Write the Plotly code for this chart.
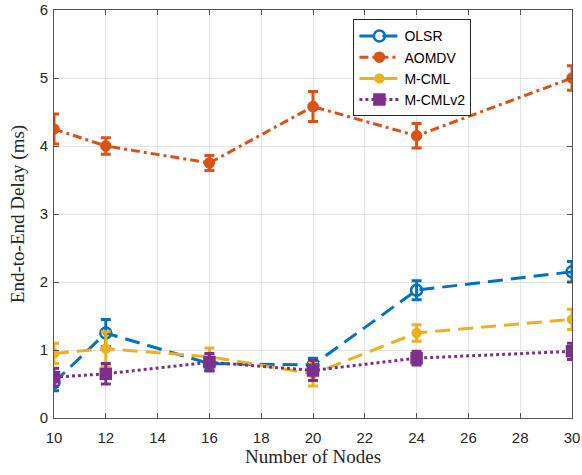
import plotly.graph_objects as go

nodes = [10, 12, 16, 20, 24, 30]
olsr = [0.52, 1.25, 0.80, 0.78, 1.88, 2.15]
olsr_err = [0.12, 0.20, 0.10, 0.10, 0.14, 0.15]
aomdv = [4.25, 4.00, 3.75, 4.58, 4.15, 5.00]
aomdv_err = [0.22, 0.12, 0.11, 0.22, 0.18, 0.18]
mcml = [0.95, 1.02, 0.90, 0.65, 1.25, 1.45]
mcml_err = [0.15, 0.25, 0.13, 0.18, 0.12, 0.15]
mcmlv2 = [0.60, 0.65, 0.82, 0.70, 0.88, 0.98]
mcmlv2_err = [0.13, 0.15, 0.13, 0.15, 0.10, 0.12]

blue = "#0072BD"
orange = "#D95319"
yellow = "#EDB120"
purple = "#7E2F8E"

fig = go.Figure()

def add(name, y, err, color, dash, symbol, size, width=3):
    fig.add_trace(go.Scatter(
        x=nodes, y=y, name=name, mode="lines+markers",
        line=dict(color=color, width=width, dash=dash),
        marker=dict(symbol=symbol, size=size, color=color,
                    line=dict(color=color, width=2.5)),
        error_y=dict(type="data", array=err, visible=True, color=color,
                     thickness=3, width=5),
    ))

add("OLSR", olsr, olsr_err, blue, "15px,8px", "circle-open", 11)
add("AOMDV", aomdv, aomdv_err, orange, "9px,4px,3px,4px", "circle", 9)
add("M-CML", mcml, mcml_err, yellow, "15px,8px", "circle", 8)
add("M-CMLv2", mcmlv2, mcmlv2_err, purple, "3px,3px", "square", 10)

axis_common = dict(
    showline=True, linecolor="#555555", linewidth=1, mirror="ticks",
    ticks="inside", ticklen=5, tickcolor="#555555",
    showgrid=True, gridcolor="#E3E3E3", gridwidth=1,
    zeroline=False, automargin=False,
    tickfont=dict(family="Liberation Sans, Arial", size=15, color="#262626"),
)

fig.update_layout(
    width=582, height=475,
    margin=dict(l=54, r=10, t=10, b=57),
    paper_bgcolor="white", plot_bgcolor="white",
    xaxis=dict(range=[10, 30], dtick=2, tick0=10, ticklabelstandoff=6,
               title=dict(text="Number of Nodes", standoff=2,
                          font=dict(family="Liberation Serif, DejaVu Serif", size=19, color="#262626")),
               **axis_common),
    yaxis=dict(range=[0, 6], dtick=1, ticklabelstandoff=2,
               title=dict(text="End-to-End Delay (ms)", standoff=10,
                          font=dict(family="Liberation Serif, DejaVu Serif", size=19, color="#262626")),
               **axis_common),
    legend=dict(x=0.578, y=0.977, xanchor="left", yanchor="top",
                bgcolor="white", bordercolor="#262626", borderwidth=1,
                font=dict(family="Liberation Sans, Arial", size=14, color="#000000"),
                tracegroupgap=0, itemwidth=40),
    showlegend=True,
)

fig.write_html("out.html")
